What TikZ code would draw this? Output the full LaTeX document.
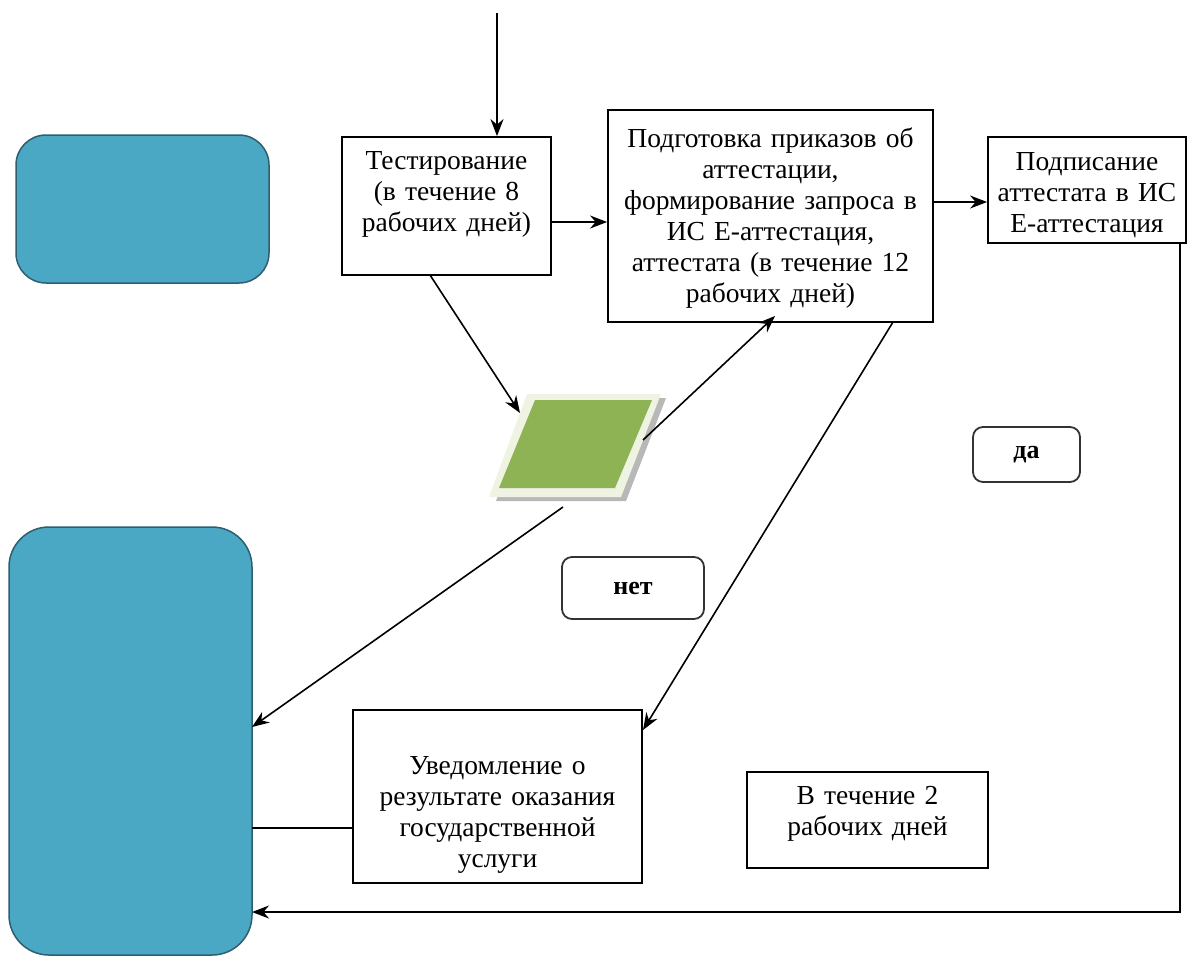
\documentclass[tikz,border=0pt]{standalone}
\usepackage{fontspec}
\setmainfont{Liberation Serif}
\usetikzlibrary{arrows.meta,calc}
\definecolor{bluefill}{HTML}{4AA8C4}
\definecolor{bluedraw}{HTML}{2E5E70}
\definecolor{greenfill}{HTML}{8DB354}
\definecolor{greenframe}{HTML}{EEF3E2}
\definecolor{shadowgray}{HTML}{B8B8B8}
\tikzset{
  box/.style={draw=black,line width=1.8pt,rectangle,inner sep=0pt},
  bluebox/.style={draw=bluedraw,fill=bluefill,line width=1.5pt,rectangle,rounded corners=30pt,inner sep=0pt},
  tagbox/.style={draw=black!80,line width=1.8pt,rectangle,rounded corners=10pt,inner sep=0pt,font=\fontsize{26}{30}\selectfont\bfseries},
  txt/.style={align=center,inner sep=0pt,font=\fontsize{27.5}{31}\selectfont},
  conn/.style={line width=1.6pt,-{Stealth[length=17pt,width=13pt]}},
  plain/.style={line width=1.6pt}
}
\begin{document}
\begin{tikzpicture}[x=1pt,y=-1pt]
\useasboundingbox (0,0) rectangle (1190,959);
% blue terminals
\node[bluebox,minimum width=253pt,minimum height=148pt] (blue1) at (142.5,209) {};
\node[bluebox,rounded corners=40pt,minimum width=243pt,minimum height=428pt] (blue2) at (130.5,741) {};
% process boxes
\node[box,minimum width=209pt,minimum height=138pt] (test) at (446.5,206) {};
\node[txt,text width=205pt] (testt) at (446.5,194) {Тестирование\\(в течение 8\\рабочих дней)};
\node[box,minimum width=325pt,minimum height=212pt] (prep) at (770.5,216) {};
\node[txt,text width=320pt] (prept) at (770.5,218) {Подготовка приказов об\\аттестации,\\формирование запроса в\\ИС Е-аттестация,\\аттестата (в течение 12\\рабочих дней)};
\node[box,minimum width=198pt,minimum height=106pt] (sign) at (1087,190) {};
\node[txt,text width=196pt] (signt) at (1087,195) {Подписание\\аттестата в ИС\\Е-аттестация};
\node[box,minimum width=289pt,minimum height=173pt] (notif) at (497.5,796.5) {};
\node[txt,text width=285pt] (notift) at (497.5,815) {Уведомление о\\результате оказания\\государственной\\услуги};
\node[box,minimum width=241pt,minimum height=96pt] (days) at (867.5,820) {};
\node[txt,text width=237pt] (dayst) at (867.5,814) {В течение 2\\рабочих дней};
% tags
\node[tagbox,minimum width=142pt,minimum height=62pt] (net) at (633,588) {нет};
\node[tagbox,minimum width=107pt,minimum height=55pt] (da) at (1026.5,454.5) {да};
% parallelogram (decision / data)
\fill[shadowgray] (496,501) -- (534,398) -- (666,398) -- (626,501) -- cycle;
\fill[greenframe] (489,497) -- (527,394) -- (661,394) -- (621,497) -- cycle;
\fill[greenfill] (499,488) -- (535,400) -- (652,400) -- (615,488) -- cycle;
\coordinate (para) at (575,444);
\coordinate (paraNW) at (520,413);
\coordinate (paraE) at (643,440);
\coordinate (paraS) at (563,507);
% connectors
\coordinate (start) at (497,13);
\draw[conn] (start) -- (start |- test.north);
\coordinate (t1) at (551,222);
\draw[conn] (t1) -- (t1 -| prep.west);
\coordinate (p1) at (933,202);
\draw[conn] (p1) -- (p1 -| sign.west);
\coordinate (tb) at (430,275);
\draw[conn] (tb) -- (paraNW);
\coordinate (pb) at (775,316);
\draw[conn] (paraE) -- (pb);
\coordinate (b2a) at (252,727);
\draw[conn] (paraS) -- (b2a);
\coordinate (pb2) at (893,322);
\coordinate (nt) at (643,730);
\draw[conn] (pb2) -- (nt);
\coordinate (b2b) at (252,828);
\draw[plain] (b2b) -- (b2b -| notif.west);
\coordinate (s1) at (1180,243);
\coordinate (s2) at (1180,912);
\coordinate (b2c) at (252,912);
\draw[conn] (s1) -- (s2) -- (b2c);
\end{tikzpicture}
\end{document}
